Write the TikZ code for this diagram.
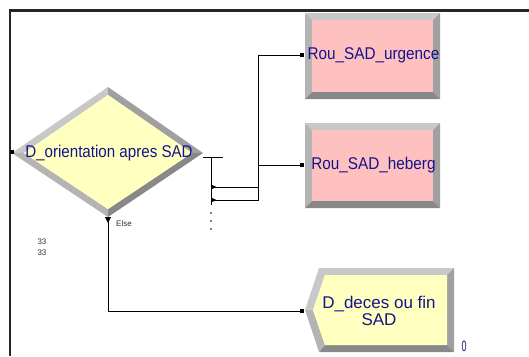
\documentclass[tikz,border=0pt]{standalone}
\usepackage{fontspec}
\setmainfont{Liberation Sans}
\definecolor{navy}{RGB}{20,20,140}
\definecolor{pinkf}{RGB}{255,192,192}
\definecolor{yellf}{RGB}{255,255,192}
\definecolor{gA}{RGB}{200,200,200}
\definecolor{gB}{RGB}{180,180,180}
\definecolor{gC}{RGB}{160,160,160}
\definecolor{gD}{RGB}{136,136,136}
\begin{document}
\begin{tikzpicture}[x=1pt,y=-1pt,
  conn/.style={draw=black,line width=0.9pt},
  port/.style={rectangle,fill=black,inner sep=0pt,minimum size=3.5pt},
  frameline/.style={draw=black!85,line width=2.5pt},
  lbl/.style={text=navy,inner sep=0pt,font=\fontsize{17}{17}\selectfont},
  small/.style={text=black!80,inner sep=0pt,font=\fontsize{8}{9}\selectfont}]
\useasboundingbox (0,0) rectangle (529,356);
\fill[white] (0,0) rectangle (529,356);
% frame
\draw[frameline] (10,356) -- (10,10.7) -- (529,10.7);
% diamond D_orientation apres SAD
\fill[gA] (12,153) -- (108,87) -- (108,95) -- (24,153) -- cycle;
\fill[gB] (12,153) -- (108,217) -- (108,209) -- (24,153) -- cycle;
\fill[gC] (203,153) -- (108,87) -- (108,95) -- (192,153) -- cycle;
\fill[gD] (203,153) -- (108,217) -- (108,209) -- (192,153) -- cycle;
\fill[yellf] (24,153) -- (108,95) -- (192,153) -- (108,209) -- cycle;
\node[lbl] (dtext) at (109,153) {\scalebox{0.89}[1]{D\_orientation apres SAD}};
% boxes
\newcommand\bevbox[5]{%
  \fill[gA] (#1,#2) -- (#3,#2) -- ({#3-7},{#2+7}) -- ({#1+7},{#2+7}) -- cycle;
  \fill[gB] (#1,#2) -- ({#1+7},{#2+7}) -- ({#1+7},{#4-7}) -- (#1,#4) -- cycle;
  \fill[gC] (#3,#2) -- (#3,#4) -- ({#3-7},{#4-7}) -- ({#3-7},{#2+7}) -- cycle;
  \fill[gD] (#1,#4) -- ({#1+7},{#4-7}) -- ({#3-7},{#4-7}) -- (#3,#4) -- cycle;
  \fill[#5] ({#1+7},{#2+7}) rectangle ({#3-7},{#4-7});}
\bevbox{305}{13}{440}{99}{pinkf}
\node[lbl] (utext) at (373.5,55) {\scalebox{0.9}[1]{Rou\_SAD\_urgence}};
\bevbox{305}{123}{440}{208}{pinkf}
\node[lbl] (htext) at (373.5,165) {\scalebox{0.9}[1]{Rou\_SAD\_heberg}};
% pentagon D_deces ou fin SAD
\fill[gA] (319,268) -- (454,268) -- (447,275) -- (325,275) -- cycle;
\fill[gC] (454,268) -- (454,352) -- (447,345) -- (447,275) -- cycle;
\fill[gD] (454,352) -- (319,352) -- (325,345) -- (447,345) -- cycle;
\fill[gB] (319,352) -- (305,310) -- (313,310) -- (325,345) -- cycle;
\fill[gA] (305,310) -- (319,268) -- (325,275) -- (313,310) -- cycle;
\fill[yellf] (325,275) -- (447,275) -- (447,345) -- (325,345) -- (313,310) -- cycle;
\node[lbl,align=center] (ftext) at (379,311) {D\_deces ou fin\\SAD};
% ports
\coordinate (dIn) at (12,152);
\coordinate (dOut) at (203,157);
\coordinate (xbar) at (211,157);
\coordinate (xend) at (211,205);
\coordinate (e1) at (211,187);
\coordinate (e2) at (211,200);
\coordinate (dElse) at (108,218);
\coordinate (uIn) at (302,55);
\coordinate (hIn) at (302,165);
\coordinate (fIn) at (302,311);
% connectors
\draw[conn] (dOut) -- ++(20,0);
\draw[conn] (xbar) -- (xend);
\draw[conn] (e1) -- (258,187) |- (uIn);
\draw[conn] (e2) -- (258,200) |- (hIn);
\draw[conn] (dElse) |- (fIn);
\fill (211,184.5) -- (216.5,187) -- (211,189.5) -- cycle;
\fill (211,197.5) -- (216.5,200) -- (211,202.5) -- cycle;
\fill (105,217) -- (111,217) -- (108,223) -- cycle;
\foreach \yy in {213,221,229} \fill (211,\yy) circle (0.8);
\node[port] (pd) at (dIn) {};
\node[port] (pu) at (uIn) {};
\node[port] (ph) at (hIn) {};
\node[port] (pf) at (fIn) {};
% labels
\node[small,anchor=west] (else) at (116,223.5) {Else};
\node[small] (n1) at (42,242) {33};
\node[small] (n2) at (42,252.5) {33};
\node[text=navy,inner sep=0pt,font=\fontsize{15}{15}\selectfont] (zero) at (464,346) {\scalebox{0.6}[1]{0}};
\end{tikzpicture}
\end{document}
